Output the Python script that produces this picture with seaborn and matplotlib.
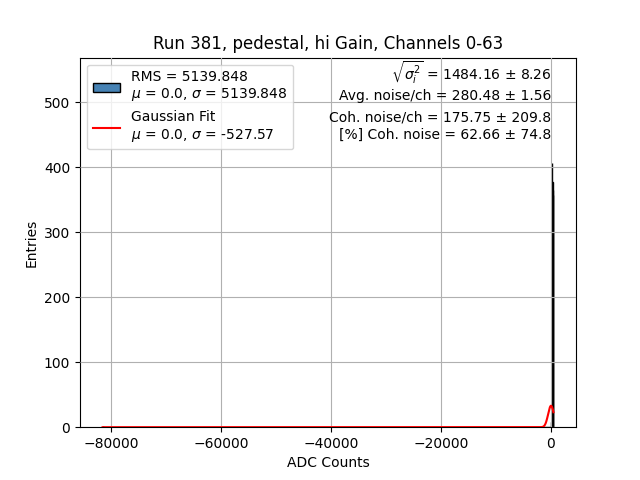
import numpy as np
import matplotlib
matplotlib.use("Agg")
import matplotlib.pyplot as plt
import matplotlib.patches as mpatches
import seaborn as sns

# histogram range / binning
x_lo, x_hi = -81538, 447
n_bins = 1000

# non-empty bins (centres) and their entries
hist_x = [-81497, 78, 160, 242, 324, 406]
hist_counts = [2, 8, 406, 377, 365, 357]

# gaussian fit
fit_mu = 0.0
fit_sigma = -527.57
fit_amp = 33.0

rms = 5139.848
stats_lines = [r"$\sqrt{\sigma_i^2}$ = 1484.16 ± 8.26",
               "Avg. noise/ch = 280.48 ± 1.56",
               "Coh. noise/ch = 175.75 ± 209.8",
               "[%] Coh. noise = 62.66 ± 74.8"]

fig, ax = plt.subplots(figsize=(6.4, 4.8), dpi=100)

sns.histplot(x=hist_x, weights=hist_counts, bins=n_bins, binrange=(x_lo, x_hi),
             ax=ax, color="steelblue", edgecolor="black", alpha=1, linewidth=1)

xf = np.linspace(x_lo, x_hi, 2000)
yf = fit_amp * np.exp(-(xf - fit_mu) ** 2 / (2 * fit_sigma ** 2))
ax.plot(xf, yf, color="red", zorder=3)

ax.set_ylim(0, max(hist_counts) * 1.4)
ax.grid(True)
ax.set_axisbelow(False)
ax.set_title("Run 381, pedestal, hi Gain, Channels 0-63")
ax.set_xlabel("ADC Counts")
ax.set_ylabel("Entries")

h1 = mpatches.Patch(facecolor="steelblue", edgecolor="black",
                    label="RMS = %.3f\n$\\mu$ = 0.0, $\\sigma$ = %.3f" % (rms, rms))
h2 = plt.Line2D([], [], color="red",
                label="Gaussian Fit\n$\\mu$ = 0.0, $\\sigma$ = %.2f" % fit_sigma)
ax.legend(handles=[h1, h2], loc="upper left")

for line, yy in zip(stats_lines, [0.938, 0.884, 0.826, 0.781]):
    ax.text(0.95, yy, line, transform=ax.transAxes, ha="right", va="baseline")

fig.savefig("out.png")
